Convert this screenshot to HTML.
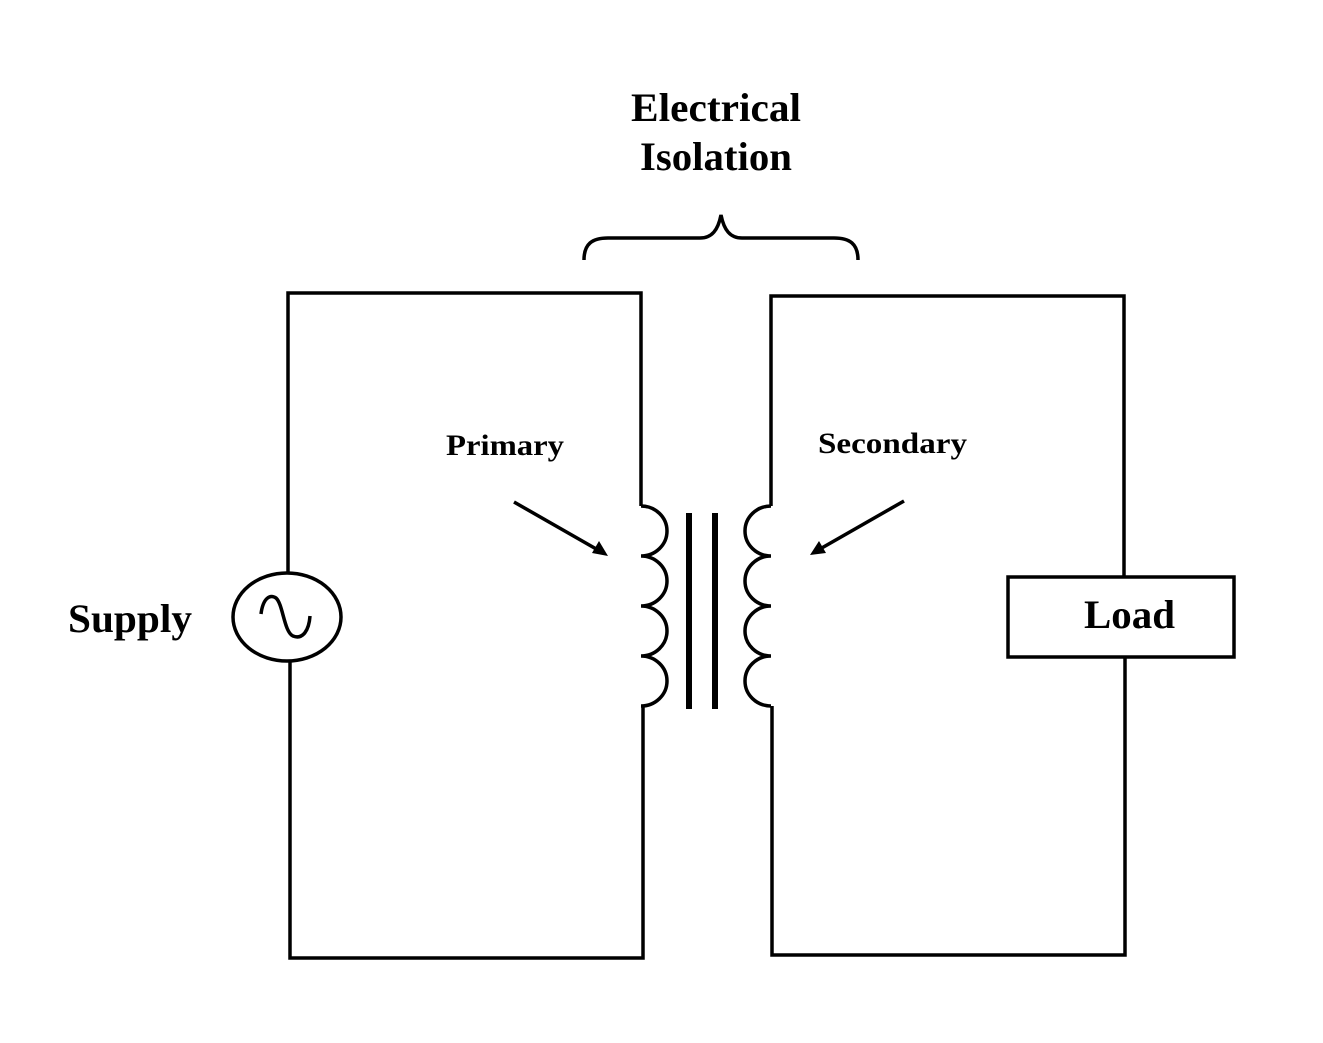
<!DOCTYPE html>
<html><head><style>body{margin:0;background:#fff}svg{display:block}</style></head><body>
<svg width="1323" height="1043" viewBox="0 0 1323 1043" xmlns="http://www.w3.org/2000/svg">
<rect width="1323" height="1043" fill="#fff"/>
<g fill="none" stroke="#000" stroke-width="3.5">
<polyline points="288,572 288,293 641,293 641,506"/>
<polyline points="290,662 290,958 643,958 643,706"/>
<path d="M641,506 a26,25 0 0 1 0,50 a26,25 0 0 1 0,50 a26,25 0 0 1 0,50 a26,25 0 0 1 0,50"/>
<polyline points="1124,577 1124,296 771,296 771,506"/>
<polyline points="1125,657 1125,955 772,955 772,706"/>
<path d="M771,506 a26,25 0 0 0 0,50 a26,25 0 0 0 0,50 a26,25 0 0 0 0,50 a26,25 0 0 0 0,50"/>
<rect x="1008" y="577" width="226" height="80"/>
<ellipse cx="287" cy="617" rx="54" ry="44"/>
<path d="M261,614 C263,598 270,594 276,598 C283,604 284,632 293,636 C303,640 309,630 310,616"/>
<path d="M584,260 C584,244 592,238 608,238 L700,238 C712,238 718,230 721,215 C724,230 730,238 742,238 L834,238 C850,238 858,244 858,260"/>
<line x1="514" y1="502" x2="598" y2="550"/>
<line x1="904" y1="501" x2="820" y2="549"/>
</g>
<rect x="686" y="513" width="6" height="196" fill="#000"/>
<rect x="712" y="513" width="6" height="196" fill="#000"/>
<polygon points="608,556 592,553 599,541" fill="#000"/>
<polygon points="810,555 819,541 826,553" fill="#000"/>
<g font-family="Liberation Serif, serif" font-weight="bold" fill="#000">
<text x="631" y="121" font-size="40" textLength="170" lengthAdjust="spacingAndGlyphs">Electrical</text>
<text x="640" y="170" font-size="40" textLength="152" lengthAdjust="spacingAndGlyphs">Isolation</text>
<text x="446" y="455" font-size="30" textLength="118" lengthAdjust="spacingAndGlyphs">Primary</text>
<text x="818" y="453" font-size="30" textLength="149" lengthAdjust="spacingAndGlyphs">Secondary</text>
<text x="68" y="632" font-size="40" textLength="124" lengthAdjust="spacingAndGlyphs">Supply</text>
<text x="1084" y="628" font-size="40" textLength="91" lengthAdjust="spacingAndGlyphs">Load</text>
</g>
</svg>
</body></html>
